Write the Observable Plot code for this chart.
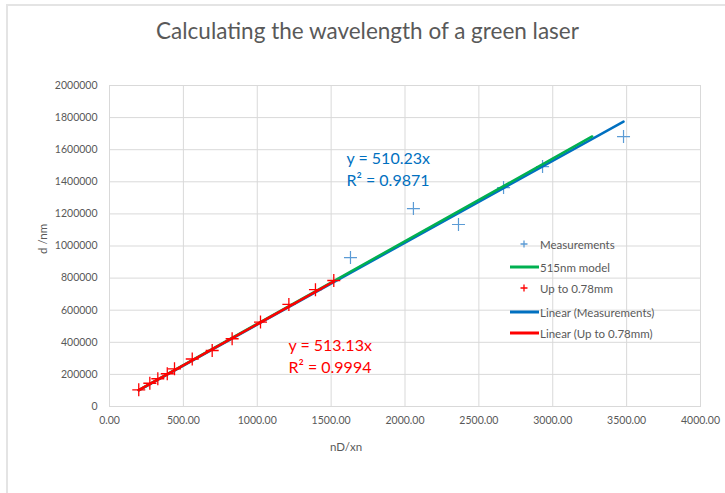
<!DOCTYPE html>
<html>
<head>
<meta charset="utf-8">
<script src="https://cdn.jsdelivr.net/npm/d3@7"></script>
<script src="https://cdn.jsdelivr.net/npm/@observablehq/plot@0.6"></script>
<style>
  html, body { margin: 0; padding: 0; background: #fff; }
  #chart { position: relative; width: 725px; height: 493px; background: #fff; overflow: hidden; font-family: Lato, "Open Sans", sans-serif; color: #595959; }
  #border { position: absolute; left: 6px; top: 4px; right: -10px; bottom: -10px; border-top: 2px solid #e4e4e4; border-left: 2px solid #e4e4e4; }
  #title { position: absolute; left: 0; width: 735px; top: 17px; text-align: center; font-size: 22.5px; color: #595959; white-space: nowrap; }
  #chart svg.plot { position: absolute; left: 0; top: 0; }
  .leg { position: absolute; left: 508px; height: 16px; display: flex; align-items: center; font-size: 11.5px; color: #595959; white-space: nowrap; }
  .leg svg { width: 32px; height: 16px; margin-right: 0px; }
</style>
</head>
<body>
<div id="chart">
  <div id="border"></div>
  <div id="title">Calculating the wavelength of a green laser</div>
</div>
<script>
// ---- data ----
const upToX = [198, 273, 327, 391, 440, 560, 695, 830, 1022, 1214, 1394, 1518];
const upToY = [104000, 145000, 173000, 204000, 235000, 296000, 349000, 422000, 526000, 636000, 728000, 785000];
const extraX = [1631, 2057, 2362, 2667, 2931, 3479];
const extraY = [928000, 1233000, 1134000, 1364000, 1495000, 1682000];
const measX = upToX.concat(extraX);
const measY = upToY.concat(extraY);
const modelX = [198, 3267];
const modelY = [102000, 1682500];
const trendSlopes = { meas: 510.23, upTo: 513.13 };
const trendLabels = { meas: ["y = 510.23x", "R² = 0.9871"], upTo: ["y = 513.13x", "R² = 0.9994"] };
const xTicks = [0, 500, 1000, 1500, 2000, 2500, 3000, 3500, 4000];
const yTicks = [0, 200000, 400000, 600000, 800000, 1000000, 1200000, 1400000, 1600000, 1800000, 2000000];
const seriesNames = ["Measurements", "515nm model", "Up to 0.78mm", "Linear (Measurements)", "Linear (Up to 0.78mm)"];

const colors = { meas: "#5B9BD5", model: "#00B050", upTo: "#FF0000", measTrend: "#0070C0", upToTrend: "#FF0000" };

// measurement markers below 0.78mm are hidden under the red markers, so only the others are drawn in blue
const measVisible = extraX.map((x, i) => ({ x, y: extraY[i] }));
const upTo = upToX.map((x, i) => ({ x, y: upToY[i] }));
const model = modelX.map((x, i) => ({ x, y: modelY[i] }));
const trendLine = (xs, k) => [d3.min(xs), d3.max(xs)].map(x => ({ x, y: k * x }));
const measTrend = trendLine(measX, trendSlopes.meas);
const upToTrend = trendLine(upToX, trendSlopes.upTo);

const cross = {
  draw(ctx, size) {
    const r = Math.sqrt(size / Math.PI);
    ctx.moveTo(-r, 0); ctx.lineTo(r, 0);
    ctx.moveTo(0, -r); ctx.lineTo(0, r);
  }
};

const plot = Plot.plot({
  width: 725,
  height: 493,
  marginLeft: 109,
  marginRight: 25,
  marginTop: 85,
  marginBottom: 87,
  style: { fontFamily: "Lato, 'Open Sans', sans-serif", fontSize: "10.5px", color: "#595959", background: "transparent" },
  x: { domain: [0, 4000], label: null },
  y: { domain: [0, 2000000], label: null },
  marks: [
    Plot.gridX(xTicks, { stroke: "#d9d9d9", strokeOpacity: 1 }),
    Plot.gridY(yTicks, { stroke: "#d9d9d9", strokeOpacity: 1 }),
    Plot.frame({ stroke: "#d9d9d9" }),
    Plot.axisX({ ticks: xTicks, tickSize: 0, tickPadding: 10, tickFormat: d => d.toFixed(2), fill: "#595959", label: null }),
    Plot.axisY({ ticks: yTicks, tickSize: 0, tickPadding: 12, tickFormat: d => String(d), fill: "#595959", label: null }),
    Plot.text(["d /nm"], { frameAnchor: "left", dx: -66, dy: 8, rotate: -90, fontSize: 11.5, fill: "#595959" }),
    Plot.text(["nD/xn"], { frameAnchor: "bottom", dx: -59, dy: 44, fontSize: 11.5, fill: "#595959" }),
    Plot.dot(measVisible, { x: "x", y: "y", symbol: cross, r: 6.5, stroke: colors.meas, fill: "none", strokeWidth: 1.2 }),
    Plot.line(measTrend, { x: "x", y: "y", stroke: colors.measTrend, strokeWidth: 2.5 }),
    Plot.line(model, { x: "x", y: "y", stroke: colors.model, strokeWidth: 2.5 }),
    Plot.line(upToTrend, { x: "x", y: "y", stroke: colors.upToTrend, strokeWidth: 2.5 }),
    Plot.dot(upTo, { x: "x", y: "y", symbol: cross, r: 6.5, stroke: colors.upTo, fill: "none", strokeWidth: 1.3 }),
    Plot.text([trendLabels.meas[0]], { x: 1604, y: 1545000, textAnchor: "start", fontSize: 16, fill: colors.measTrend }),
    Plot.text([trendLabels.meas[1]], { x: 1604, y: 1408000, textAnchor: "start", fontSize: 16, fill: colors.measTrend }),
    Plot.text([trendLabels.upTo[0]], { x: 1211, y: 380000, textAnchor: "start", fontSize: 16, fill: colors.upTo }),
    Plot.text([trendLabels.upTo[1]], { x: 1211, y: 243000, textAnchor: "start", fontSize: 16, fill: colors.upTo })
  ]
});
plot.classList.add("plot");
document.getElementById("chart").appendChild(plot);

// ---- legend ----
const legendRows = [
  { name: seriesNames[0], kind: "cross", color: colors.meas, cy: 244 },
  { name: seriesNames[1], kind: "line", color: colors.model, cy: 267 },
  { name: seriesNames[2], kind: "cross", color: colors.upTo, cy: 288 },
  { name: seriesNames[3], kind: "line", color: colors.measTrend, cy: 312 },
  { name: seriesNames[4], kind: "line", color: colors.upToTrend, cy: 333 }
];
const chart = document.getElementById("chart");
for (const row of legendRows) {
  const div = document.createElement("div");
  div.className = "leg";
  div.style.top = (row.cy - 8) + "px";
  const sym = row.kind === "cross"
    ? `<svg viewBox="0 0 32 16"><path d="M12.5,8H19.5M16,4.5V11.5" stroke="${row.color}" stroke-width="1.3" fill="none"/></svg>`
    : `<svg viewBox="0 0 32 16"><path d="M2,8H31" stroke="${row.color}" stroke-width="3" fill="none"/></svg>`;
  div.innerHTML = sym + `<span>${row.name}</span>`;
  chart.appendChild(div);
}
</script>
</body>
</html>
